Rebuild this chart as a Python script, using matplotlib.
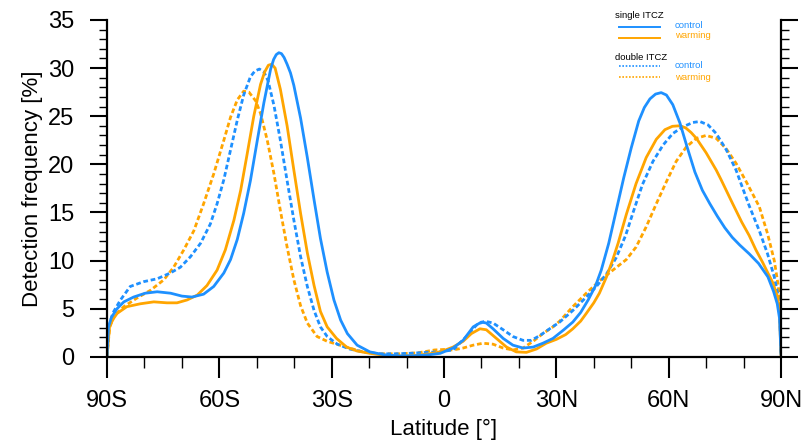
import matplotlib
matplotlib.use("Agg")
import matplotlib.pyplot as plt
from matplotlib.lines import Line2D

plt.rcParams['font.family'] = ['Liberation Sans', 'DejaVu Sans']

# single ITCZ, control
lat_sc = [-90, -89.6, -88.8, -87.3, -85.5, -82.9, -79.8, -76.6, -73, -70, -67.3, -64.2, -61.5,
          -58.8, -57, -55.2, -53.5, -51.7, -49.9, -48.1, -46.3, -45.5, -44.8, -44.1, -43.4, -42.7,
          -41.9, -41, -40.1, -38.3, -36.5, -34.7, -33, -31.2, -29.4, -27.6, -25.8, -23.2, -19.8,
          -16, -12, -8, -4, -1, 2.4, 5.1, 7.8, 10, 11.3, 13.1, 15.8, 18.4, 21.1, 23.8, 26.4, 29.1,
          32, 34.4, 36.5, 38.5, 40.5, 42, 44, 46, 48, 50, 52, 53.5, 55, 56.5, 58, 59.4, 61.1,
          63, 65, 67, 69, 71, 73, 75, 77, 79, 81.5, 84, 86.5, 88, 89, 89.6, 90]
val_sc = [0, 3.1, 4.1, 5.0, 5.7, 6.2, 6.6, 6.75, 6.6, 6.3, 6.2, 6.5, 7.3,
          8.7, 10.1, 12.2, 14.9, 18.3, 22.4, 26.4, 29.9, 30.9, 31.4, 31.6, 31.5, 31.1,
          30.4, 29.5, 28.2, 24.8, 20.7, 16.3, 12.3, 8.8, 5.9, 3.8, 2.4, 1.2, 0.5,
          0.2, 0.08, 0.1, 0.2, 0.35, 0.9, 1.7, 3.1, 3.6, 3.5, 2.9, 1.9, 1.2, 0.9, 1.0, 1.4, 1.9,
          2.8, 3.6, 4.6, 5.9, 7.4, 9.0, 11.8, 15.2, 18.6, 21.7, 24.5, 25.9, 26.8, 27.3, 27.45, 27.2, 26.2,
          24.3, 21.7, 19.2, 17.3, 15.9, 14.6, 13.4, 12.4, 11.6, 10.7, 9.7, 8.3, 6.8, 5.5, 4.0, 0.3]

# single ITCZ, warming
lat_sw = [-90, -89.3, -88.2, -87.3, -84.7, -81.1, -77.5, -74, -71.3, -68.6, -65.9, -63.3, -60.6,
          -58.4, -56.1, -54.3, -52.6, -50.8, -49, -47.9, -46.9, -46, -45.1, -43.7, -41.9, -40.1,
          -38.3, -36.5, -34.7, -33, -31.2, -28.7, -26, -23.3, -19.8, -16.3, -12, -8, -4, -1, 2.4,
          5.1, 7.3, 9.6, 11.3, 14, 16.7, 19.3, 22, 24.7, 27.3, 30, 32.5, 34.4, 36.5, 38, 40, 41.5,
          43.4, 45, 46.5, 48.7, 51.3, 54, 56.7, 59, 61, 62.8, 64.5, 66, 67.4, 70, 72.7, 74, 77.1,
          79.5, 81.5, 83.3, 85.1, 86.5, 87.8, 89.1, 89.6, 90]
val_sw = [0, 3.2, 4.0, 4.5, 5.2, 5.5, 5.7, 5.6, 5.6, 5.9, 6.4, 7.4, 9.0,
          11.1, 14.2, 17.3, 21.0, 25.0, 28.3, 29.6, 30.3, 30.4, 30.0, 27.8, 24.0, 19.4,
          14.9, 10.8, 7.4, 4.7, 3.1, 1.9, 1.0, 0.6, 0.35, 0.17, 0.05, 0.1, 0.3, 0.5, 1.0,
          1.6, 2.4, 2.9, 2.8, 1.9, 1.0, 0.5, 0.45, 0.8, 1.4, 1.8, 2.3, 2.9, 3.7, 4.5, 5.6, 6.6,
          8.3, 10.0, 11.8, 14.8, 18.0, 20.7, 22.6, 23.6, 23.95, 24.0, 23.8, 23.3, 22.7, 21.2, 19.4, 18.4, 15.9,
          14.0, 12.6, 11.1, 9.8, 8.7, 7.7, 6.2, 4.5, 0.2]

# double ITCZ, control
lat_dc = [-90, -89.5, -88.5, -86.4, -83.8, -80.2, -76.6, -73.1, -70.4, -67.7, -65, -62.4, -60.6,
          -58.8, -57, -55.2, -53.5, -51.7, -50.5, -49.3, -48.1, -47, -45.4, -43.7, -41.9, -40.1,
          -38.3, -36.5, -34.7, -33, -31.2, -28.5, -25.2, -21.7, -17.2, -13, -9.2, -4.7, -1.2, 2.4,
          6, 8.7, 10.9, 13.1, 15.8, 18.4, 21.1, 23.3, 25.6, 28.2, 30.9, 34.4, 38, 40.7, 43.4, 46,
          48.5, 50.5, 53, 55.8, 58.5, 61.1, 63.8, 66.5, 68.3, 70.5, 72.7, 75.4, 78, 79.5, 81.5,
          84.2, 86.4, 88.2, 89.1, 89.7, 90]
val_dc = [0, 3.0, 4.5, 5.9, 7.3, 7.8, 8.1, 8.7, 9.3, 10.4, 11.8, 13.8, 15.9,
          18.4, 21.5, 24.6, 27.2, 29.1, 29.7, 29.9, 29.6, 28.7, 26.1, 22.5, 18.3, 14.2,
          10.4, 7.3, 4.8, 3.1, 2.1, 1.3, 0.8, 0.5, 0.3, 0.3, 0.35, 0.45, 0.5, 0.7,
          2.1, 3.3, 3.7, 3.5, 2.8, 2.1, 1.7, 1.7, 2.2, 2.9, 3.6, 4.8, 6.2, 7.3, 8.6, 10.3,
          12.6, 15.0, 17.9, 20.3, 22.0, 23.2, 23.9, 24.35, 24.45, 24.1, 23.2, 21.5, 19.4, 17.8, 15.7,
          13.1, 10.7, 8.3, 6.6, 4.0, 0.2]

# double ITCZ, warming
lat_dw = [-90, -89.3, -88.2, -85.5, -82, -78.4, -74.8, -72.2, -69.5, -66.8, -64.2, -61.5, -58.8,
          -57, -55.2, -53.5, -52.1, -50.3, -49, -47.2, -45.4, -43.7, -41.9, -40.1, -38.3, -36.5,
          -33.9, -31.2, -27.8, -25.2, -21.7, -17.2, -12, -7, -2.5, 0, 2.4, 5.1, 7.8, 10.4, 13.1,
          15.8, 18.4, 21.1, 23.8, 26.4, 29.1, 30.9, 34.4, 38, 41.6, 45.1, 48.7, 51.3, 54, 56.7,
          59.4, 62, 64.7, 67.4, 70, 72.7, 75.4, 78, 80.7, 84.2, 86.4, 88.2, 89.3, 89.8, 90]
val_dw = [0, 3.0, 4.2, 5.2, 6.1, 6.9, 8.0, 9.3, 11.1, 13.1, 15.9, 19.0, 22.5,
          24.9, 26.7, 27.6, 27.5, 26.6, 25.3, 22.5, 19.0, 15.2, 11.4, 8.0, 5.3, 3.5,
          2.1, 1.6, 1.2, 0.9, 0.5, 0.3, 0.3, 0.4, 0.7, 0.75, 0.7, 0.9, 1.2, 1.4, 1.3,
          0.9, 0.7, 0.9, 1.6, 2.4, 3.1, 3.7, 5.2, 6.6, 7.9, 9.0, 10.1, 11.4, 13.5, 15.9,
          18.2, 20.3, 21.8, 22.7, 23.0, 22.7, 21.6, 20.1, 18.2, 15.6, 12.8, 10.0, 7.3, 4.0, 0.2]

tick_pos = [-90, -60, -30, 0, 30, 60, 90]
tick_lab = ["90S", "60S", "30S", "0", "30N", "60N", "90N"]

blue = "#1E90FF"
orange = "#FFA500"
W, H = 805, 440

fig = plt.figure(figsize=(W / 100, H / 100), dpi=100)
ax = fig.add_axes([107 / W, 83.3 / H, 674 / W, 336.7 / H])

dash = (1.7, 1.0)
ax.plot(lat_dw, val_dw, color=orange, lw=2.0, dashes=dash)
ax.plot(lat_dc, val_dc, color=blue, lw=2.0, dashes=dash)
ax.plot(lat_sw, val_sw, color=orange, lw=2.0)
ax.plot(lat_sc, val_sc, color=blue, lw=2.0)

ax.set_xlim(-90, 90)
ax.set_ylim(0, 35)
ax.set_xticks(tick_pos)
ax.set_xticklabels(tick_lab)
ax.set_xticks(range(-90, 91, 10), minor=True)
ax.set_yticks(range(0, 36, 5))
ax.set_yticks(range(0, 36, 1), minor=True)

ax.spines['top'].set_visible(False)
for s in ['left', 'right', 'bottom']:
    ax.spines[s].set_linewidth(1.6)

ax.tick_params(axis='x', which='major', direction='out', length=15, width=1.5, pad=9, labelsize=17)
ax.tick_params(axis='x', which='minor', direction='out', length=8, width=1.0)
ax.tick_params(axis='y', which='major', direction='out', length=12.5, width=1.5, pad=11,
               labelsize=17, right=True)
ax.tick_params(axis='y', which='minor', direction='out', length=6, width=1.0, right=True)

ax.set_xlabel("Latitude [°]", fontsize=16, labelpad=5)
ax.set_ylabel("Detection frequency [%]", fontsize=16, labelpad=4)

# legend drawn by hand in pixel positions
def fx(x):
    return x / W

def fy(y):
    return 1 - y / H

fs = 6.8
fig.text(fx(615), fy(16), "single ITCZ", fontsize=fs, va='center', ha='left')
fig.add_artist(Line2D([fx(619), fx(660)], [fy(27), fy(27)], color=blue, lw=1.4))
fig.add_artist(Line2D([fx(619), fx(660)], [fy(38), fy(38)], color=orange, lw=1.4))
fig.text(fx(675), fy(25), "control", fontsize=fs, color=blue, va='center', ha='left')
fig.text(fx(675), fy(36), "warming", fontsize=fs, color=orange, va='center', ha='left')
fig.text(fx(615), fy(57), "double ITCZ", fontsize=fs, va='center', ha='left')
fig.add_artist(Line2D([fx(619), fx(660)], [fy(66), fy(66)], color=blue, lw=1.2, dashes=(1, 1)))
fig.add_artist(Line2D([fx(619), fx(660)], [fy(77), fy(77)], color=orange, lw=1.2, dashes=(1, 1)))
fig.text(fx(675), fy(66), "control", fontsize=fs, color=blue, va='center', ha='left')
fig.text(fx(675), fy(77), "warming", fontsize=fs, color=orange, va='center', ha='left')

fig.savefig("out.png", dpi=100)
